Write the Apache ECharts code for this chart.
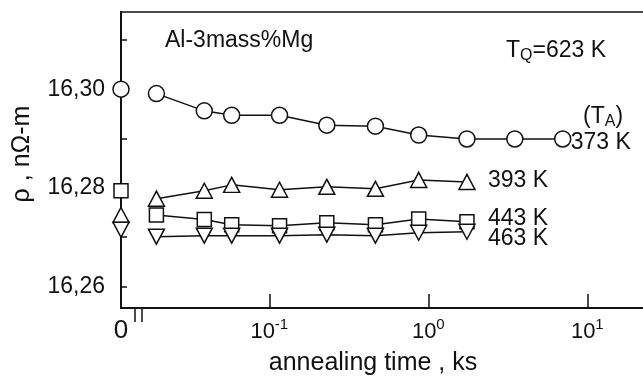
<!DOCTYPE html>
<html>
<head>
<meta charset="utf-8">
<script src="https://cdn.jsdelivr.net/npm/echarts@6/dist/echarts.min.js"></script>
<style>
  html, body { margin: 0; padding: 0; background: #fff; }
  #chart { width: 643px; height: 381px; }
</style>
</head>
<body>
<div id="chart"></div>
<script>
// ── data: annealing time (ks) and resistivity (nΩ·m) ──
const TIMES = [0.0195, 0.039, 0.058, 0.116, 0.23, 0.465, 0.87, 1.75, 3.5, 7.0];
const RHO_373 = [16.2991, 16.2956, 16.2947, 16.2947, 16.2927, 16.2925, 16.2907, 16.2899, 16.2899, 16.2899];
const RHO_393 = [16.2778, 16.2794, 16.2806, 16.2796, 16.2802, 16.2798, 16.2816, 16.2812];
const RHO_443 = [16.2745, 16.2736, 16.2725, 16.2723, 16.2729, 16.2725, 16.2737, 16.2731];
const RHO_463 = [16.2701, 16.2703, 16.2703, 16.2703, 16.2705, 16.2703, 16.2709, 16.2711];
// as-quenched (t = 0) values: 373 / 393 / 443 / 463 K
const RHO_QUENCHED = [16.3000, 16.2745, 16.2794, 16.2715];
const SERIES_NAMES = ['373 K', '393 K', '443 K', '463 K'];

// ── axis ticks ──
const Y_TICKS = [16.26, 16.27, 16.28, 16.29, 16.30, 16.31];
const Y_LABELS = [16.26, 16.28, 16.30];
const X_TICKS = [0.1, 1, 10];

const FONT = 'Liberation Sans';
const INK = '#111';

const chart = echarts.init(document.getElementById('chart'));

// marker look per series
const MARKERS = [
  { symbol: 'circle', size: 16, rotate: 0, label: [8, 4] },
  { symbol: 'triangle', size: [16, 15], rotate: 0, label: [21, -1] },
  { symbol: 'rect', size: 14, rotate: 0, label: [21, -3] },
  { symbol: 'triangle', size: [16, 15], rotate: 180, label: [21, 7] },
];
const CURVES = [RHO_373, RHO_393, RHO_443, RHO_463];

const series = [];
CURVES.forEach((rho, k) => {
  const m = MARKERS[k];
  series.push({
    name: SERIES_NAMES[k],
    type: 'line',
    xAxisIndex: 0,
    yAxisIndex: 0,
    data: rho.map((v, i) => [TIMES[i], v]),
    symbol: m.symbol,
    symbolSize: m.size,
    symbolRotate: m.rotate,
    showAllSymbol: true,
    clip: false,
    lineStyle: { color: INK, width: 1.5 },
    itemStyle: { color: '#fff', borderColor: INK, borderWidth: 1.5, opacity: 1 },
    endLabel: {
      show: true,
      formatter: SERIES_NAMES[k],
      distance: 0,
      offset: m.label,
      align: 'left',
      verticalAlign: 'middle',
      color: INK,
      fontFamily: FONT,
      fontSize: 23,
    },
    z: 3 + k,
  });
  // t = 0 point, drawn on the y axis
  series.push({
    type: 'scatter',
    xAxisIndex: 1,
    yAxisIndex: 0,
    data: [[0, RHO_QUENCHED[k]]],
    symbol: m.symbol,
    symbolSize: m.size,
    symbolRotate: m.rotate,
    clip: false,
    itemStyle: { color: '#fff', borderColor: INK, borderWidth: 1.5, opacity: 1 },
    z: 3 + k,
  });
});

const subRich = {
  n: { fontFamily: FONT, fontSize: 23, fill: INK, lineHeight: 26, verticalAlign: 'middle' },
  q: { fontFamily: FONT, fontSize: 16, fill: INK, lineHeight: 26, verticalAlign: 'bottom' },
};

chart.setOption({
  animation: false,
  backgroundColor: '#fff',
  grid: { left: 121, right: 0, top: 12, bottom: 66 },
  xAxis: [
    {
      type: 'log',
      position: 'bottom',
      min: 0.011677,
      max: 22.4,
      axisLine: { show: true, lineStyle: { color: INK, width: 2 } },
      axisTick: { show: true, inside: true, length: 14, customValues: X_TICKS, lineStyle: { color: INK, width: 1.5 } },
      splitLine: { show: false },
      axisLabel: {
        customValues: X_TICKS,
        margin: 9,
        formatter: (v) => '{b|10}{s|' + Math.round(Math.log10(v)) + '}',
        rich: {
          b: { fontFamily: FONT, fontSize: 22, color: INK, lineHeight: 26, verticalAlign: 'bottom' },
          s: { fontFamily: FONT, fontSize: 15, color: INK, lineHeight: 15, verticalAlign: 'top' },
        },
      },
      name: 'annealing time , ks',
      nameLocation: 'middle',
      nameGap: 43,
      nameTextStyle: { fontFamily: FONT, fontSize: 25, color: INK, padding: [0, 18, 0, 0] },
    },
    {
      type: 'value',
      position: 'bottom',
      min: 0,
      max: 1,
      axisLine: { show: false },
      axisTick: { show: false },
      splitLine: { show: false },
      axisLabel: {
        customValues: [0],
        margin: 10,
        fontFamily: FONT,
        fontSize: 26,
        color: INK,
        formatter: () => '0',
      },
    },
    {
      type: 'value',
      position: 'top',
      min: 0,
      max: 1,
      axisLine: { show: true, lineStyle: { color: INK, width: 1.5 } },
      axisTick: { show: false },
      axisLabel: { show: false },
      splitLine: { show: false },
    },
  ],
  yAxis: {
    type: 'value',
    min: 16.25564,
    max: 16.31564,
    axisLine: { show: true, lineStyle: { color: INK, width: 2 } },
    axisTick: { show: true, inside: true, length: 6, customValues: Y_TICKS, lineStyle: { color: INK, width: 1.5 } },
    splitLine: { show: false },
    axisLabel: {
      customValues: Y_LABELS,
      margin: 16,
      fontFamily: FONT,
      fontSize: 23,
      color: INK,
      formatter: (v) => v.toFixed(2).replace('.', ','),
    },
  },
  graphic: [
    // axis break on the time axis
    { type: 'rect', shape: { x: 136, y: 310, width: 5, height: 10 }, style: { fill: '#fff' }, z: 50 },
    { type: 'line', shape: { x1: 135, y1: 309, x2: 135, y2: 322 }, style: { stroke: INK, lineWidth: 1.5 }, z: 51 },
    { type: 'line', shape: { x1: 142, y1: 309, x2: 142, y2: 322 }, style: { stroke: INK, lineWidth: 1.5 }, z: 51 },
    // y axis title
    {
      type: 'text', x: 22, y: 154, rotation: Math.PI / 2, z: 50,
      style: { text: 'ρ , nΩ-m', fill: INK, font: '25px ' + FONT, textAlign: 'center', textVerticalAlign: 'middle' },
    },
    {
      type: 'text', x: 165, y: 41, z: 50,
      style: { text: 'Al-3mass%Mg', fill: INK, font: '23px ' + FONT, textAlign: 'left', textVerticalAlign: 'middle' },
    },
    {
      type: 'text', x: 506, y: 51, z: 50,
      style: { text: '{n|T}{q|Q}{n|=623 K}', textAlign: 'left', textVerticalAlign: 'middle', rich: subRich },
    },
    {
      type: 'text', x: 583, y: 117, z: 50,
      style: { text: '{n|(T}{q|A}{n|)}', textAlign: 'left', textVerticalAlign: 'middle', rich: subRich },
    },
  ],
  series: series,
});
</script>
</body>
</html>
